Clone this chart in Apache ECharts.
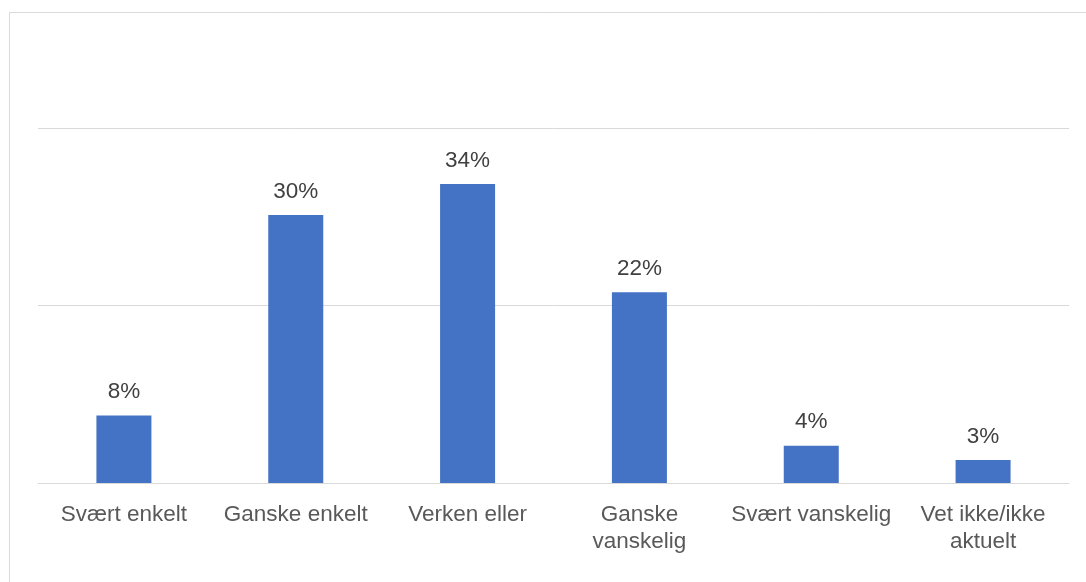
<!DOCTYPE html>
<html>
<head>
<meta charset="utf-8">
<script src="https://cdn.jsdelivr.net/npm/echarts@6/dist/echarts.min.js"></script>
<style>
html, body { margin: 0; padding: 0; background: #fff; }
#chart { width: 1086px; height: 582px; }
</style>
</head>
<body>
<div id="chart"></div>
<script>
const categories = [
  'Svært enkelt',
  'Ganske enkelt',
  'Verken eller',
  'Ganske\nvanskelig',
  'Svært vanskelig',
  'Vet ikke/ikke\naktuelt'
];
const values = [7.6, 30.2, 33.7, 21.5, 4.2, 2.6];
const valueLabels = ['8%', '30%', '34%', '22%', '4%', '3%'];

const myChart = echarts.init(document.getElementById('chart'));

const option = {
  animation: false,
  textStyle: { fontFamily: 'Liberation Sans, Arial, sans-serif' },
  graphic: [{
    type: 'rect',
    shape: { x: 9.5, y: 12.5, width: 1100, height: 600 },
    style: { fill: 'none', stroke: '#d9d9d9', lineWidth: 1 },
    silent: true
  }],
  grid: {
    left: 38,
    right: 17,
    top: 128,
    bottom: 99
  },
  xAxis: {
    type: 'category',
    data: categories,
    axisLine: { lineStyle: { color: '#d9d9d9', width: 1 } },
    axisTick: { show: false },
    axisLabel: {
      interval: 0,
      color: '#595959',
      fontSize: 22.5,
      lineHeight: 27,
      margin: 18
    }
  },
  yAxis: {
    type: 'value',
    min: 0,
    max: 40,
    interval: 20,
    axisLabel: { show: false },
    axisLine: { show: false },
    axisTick: { show: false },
    splitLine: { lineStyle: { color: '#d9d9d9', width: 1 } }
  },
  series: [{
    type: 'bar',
    data: values,
    barWidth: 55,
    itemStyle: { color: '#4472c4' },
    label: {
      show: true,
      position: 'top',
      distance: 12,
      color: '#404040',
      fontSize: 22.5,
      formatter: p => valueLabels[p.dataIndex]
    }
  }]
};

myChart.setOption(option);
</script>
</body>
</html>
